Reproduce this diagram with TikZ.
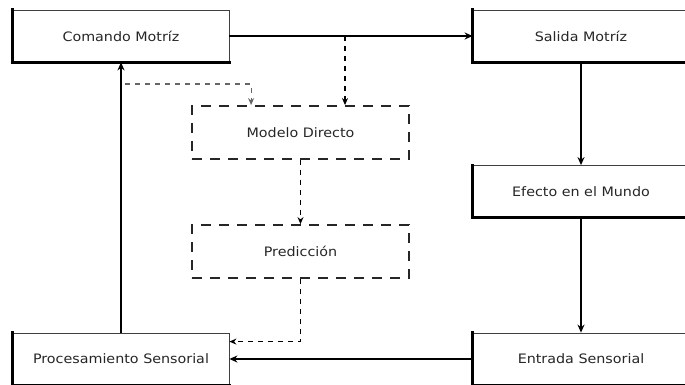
\documentclass[tikz,border=0pt]{standalone}
\usepackage{fontspec}
\setmainfont{DejaVu Sans}[FakeStretch=1.1]
\usetikzlibrary{arrows.meta}
\begin{document}
\begin{tikzpicture}[x=1pt,y=-1pt,
  label font/.style={font=\fontsize{13}{15}\selectfont, text=black!85},
  box/.style={draw=black!75, line width=0.8pt, fill=white, minimum width=216pt,
    minimum height=52pt, inner sep=0pt, label font},
  edgebox/.style={line width=3pt, line cap=rect},
  dbox/.style={draw=black!85, dashed, dash pattern=on 10pt off 8pt, line width=1.8pt,
    minimum width=217pt, minimum height=53pt, inner sep=0pt, label font},
  flow/.style={line width=1.5pt, -{Stealth[length=8pt,width=7pt]}},
  pred/.style={line width=1.1pt, dash pattern=on 5pt off 5pt, -{Stealth[length=7pt,width=6pt]}},
  copyline/.style={line width=1.1pt, draw=black!60, dash pattern=on 5pt off 5pt, -{Stealth[length=7pt,width=6pt]}}]
\useasboundingbox (0,0) rectangle (685,385);

% solid process boxes
\node[box] (cm) at (121,36) {Comando Motríz};
\node[box] (sm) at (581,36) {Salida Motríz};
\node[box] (ef) at (581,191.5) {Efecto en el Mundo};
\node[box] (en) at (581,359) {Entrada Sensorial};
\node[box] (pr) at (121,359) {Procesamiento Sensorial};

% heavy left and bottom edges of the solid boxes
\foreach \n in {cm,sm,ef,en,pr}
  \draw[edgebox] (\n.north west) -- (\n.south west) -- (\n.south east);

% forward model boxes
\node[dbox] (md) at (300.5,132.5) {Modelo Directo};
\node[dbox] (pd) at (300.5,251.5) {Predicción};

% main loop
\draw[flow] (cm.east) -- (sm.west);
\draw[flow] (sm.south) -- (ef.north);
\draw[flow] (ef.south) -- (en.north);
\draw[flow] (en.west) -- (pr.east);
\draw[flow] (pr.north) -- (cm.south);

% efference copy into the forward model
\coordinate (tapA) at (345,36);
\coordinate (tapB) at (125,84);
\draw[pred] (tapA) -- (tapA |- md.north);
\draw[copyline] (tapB) -| ([xshift=60pt]md.north west);

% prediction path
\draw[pred] (md.south) -- (pd.north);
\draw[pred] (pd.south) |- ([yshift=-9pt]pr.north east);
\end{tikzpicture}
\end{document}
